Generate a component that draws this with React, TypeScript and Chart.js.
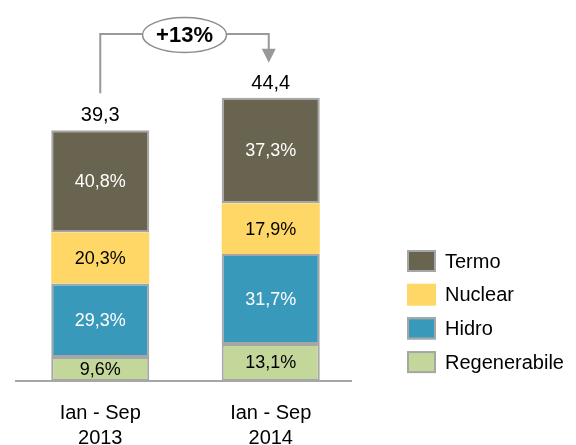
import React, { useEffect, useRef } from "react";
import { Chart, registerables } from "chart.js";

Chart.register(...registerables);

const categories: string[][] = [["Ian - Sep", "2013"], ["Ian - Sep", "2014"]];
const totals = [39.3, 44.4];
const termoPct = [40.8, 37.3];
const nuclearPct = [20.3, 17.9];
const hidroPct = [29.3, 31.7];
const regenPct = [9.6, 13.1];
const growthLabel = "+13%";

const seriesNames = ["Regenerabile", "Hidro", "Nuclear", "Termo"];
const seriesPct = [regenPct, hidroPct, nuclearPct, termoPct];
const seriesColors = ["#C4D79B", "#3999BA", "#FFD766", "#686450"];
const seriesTextColors = ["#000000", "#ffffff", "#000000", "#ffffff"];
const seriesBorder = [2, 2, 0, 2];

const FONT = "'Liberation Sans', Arial, sans-serif";
const fmt = (v: number) => v.toFixed(1).replace(".", ",");

const overlay = {
  id: "overlay",
  afterDatasetsDraw(chart: any) {
    const ctx = chart.ctx as CanvasRenderingContext2D;
    const area = chart.chartArea;
    const xs = chart.scales.x;
    const ys = chart.scales.y;
    ctx.save();

    // segment labels
    chart.data.datasets.forEach((ds: any, di: number) => {
      const meta = chart.getDatasetMeta(di);
      meta.data.forEach((bar: any, i: number) => {
        const cy = (bar.y + bar.base) / 2;
        ctx.fillStyle = seriesTextColors[di];
        ctx.font = `18px ${FONT}`;
        ctx.textAlign = "center";
        ctx.textBaseline = "middle";
        ctx.fillText(fmt(seriesPct[di][i]) + "%", bar.x, cy + 1);
      });
    });

    // totals
    const tops: number[] = [];
    const cxs: number[] = [];
    totals.forEach((t, i) => {
      const x = xs.getPixelForValue(i);
      const y = ys.getPixelForValue(t);
      tops.push(y);
      cxs.push(x);
      ctx.fillStyle = "#000";
      ctx.font = `20px ${FONT}`;
      ctx.textAlign = "center";
      ctx.textBaseline = "alphabetic";
      ctx.fillText(fmt(t), x, y - 9);
    });

    // axis baseline
    ctx.strokeStyle = "#A6A6A6";
    ctx.lineWidth = 2;
    ctx.beginPath();
    ctx.moveTo(area.left, area.bottom);
    ctx.lineTo(area.right - 4, area.bottom);
    ctx.stroke();

    // category labels
    categories.forEach((lines, i) => {
      const x = xs.getPixelForValue(i);
      ctx.fillStyle = "#000";
      ctx.font = `20px ${FONT}`;
      ctx.textAlign = "center";
      ctx.textBaseline = "alphabetic";
      lines.forEach((l, k) => ctx.fillText(l, x, area.bottom + 38 + k * 25));
    });

    // growth annotation
    const lineY = area.top + 4;
    const midX = (cxs[0] + cxs[1]) / 2 - 1;
    ctx.strokeStyle = "#999999";
    ctx.lineWidth = 2;
    ctx.beginPath();
    ctx.moveTo(cxs[0], tops[0] - 37);
    ctx.lineTo(cxs[0], lineY);
    ctx.lineTo(cxs[1] - 2, lineY);
    ctx.lineTo(cxs[1] - 2, tops[1] - 48);
    ctx.stroke();
    ctx.fillStyle = "#999999";
    ctx.beginPath();
    ctx.moveTo(cxs[1] - 9, tops[1] - 49);
    ctx.lineTo(cxs[1] + 5, tops[1] - 49);
    ctx.lineTo(cxs[1] - 2, tops[1] - 35);
    ctx.closePath();
    ctx.fill();
    ctx.beginPath();
    ctx.ellipse(midX, lineY + 1, 42, 17.5, 0, 0, Math.PI * 2);
    ctx.fillStyle = "#ffffff";
    ctx.fill();
    ctx.lineWidth = 1.5;
    ctx.strokeStyle = "#8c8c8c";
    ctx.stroke();
    ctx.fillStyle = "#000";
    ctx.font = `bold 22px ${FONT}`;
    ctx.textAlign = "center";
    ctx.textBaseline = "middle";
    ctx.fillText(growthLabel, midX, lineY + 2);

    // legend (top-down reverse of stack)
    const n = chart.data.datasets.length;
    for (let k = 0; k < n; k++) {
      const di = n - 1 - k;
      const ds = chart.data.datasets[di];
      const cy = 261 + k * 33.7;
      const bx = 407, bw = 29, bh = 22;
      ctx.fillStyle = ds.backgroundColor;
      ctx.fillRect(bx, cy - bh / 2, bw, bh);
      if (seriesBorder[di] > 0) {
        ctx.strokeStyle = "#A6A6A6";
        ctx.lineWidth = 2;
        ctx.strokeRect(bx + 1, cy - bh / 2 + 1, bw - 2, bh - 2);
      }
      ctx.fillStyle = "#000";
      ctx.font = `20px ${FONT}`;
      ctx.textAlign = "left";
      ctx.textBaseline = "middle";
      ctx.fillText(ds.label, 445, cy + 1);
    }
    ctx.restore();
  },
};

export default function App() {
  const ref = useRef<HTMLCanvasElement | null>(null);
  useEffect(() => {
    document.body.style.margin = "0";
    const canvas = ref.current;
    if (!canvas) return;
    const chart = new Chart(canvas, {
      type: "bar",
      data: {
        labels: categories.map((c) => c.join(" ")),
        datasets: seriesNames.map((name, di) => ({
          label: name,
          data: seriesPct[di].map((p, i) => (p * totals[i]) / 100),
          backgroundColor: seriesColors[di],
          borderColor: "#A6A6A6",
          borderWidth: seriesBorder[di],
          borderSkipped: false,
          barPercentage: 1,
          categoryPercentage: 0.575,
        })),
      },
      options: {
        responsive: false,
        animation: false,
        layout: { padding: { left: 15, right: 220, top: 30, bottom: 64 } },
        plugins: { legend: { display: false }, tooltip: { enabled: false } },
        scales: {
          x: { stacked: true, display: false },
          y: { stacked: true, display: false, min: 0, max: 55 },
        },
      },
      plugins: [overlay],
    });
    return () => chart.destroy();
  }, []);
  return (
    <div style={{ width: 576, height: 445 }}>
      <canvas ref={ref} width={576} height={445} />
    </div>
  );
}
